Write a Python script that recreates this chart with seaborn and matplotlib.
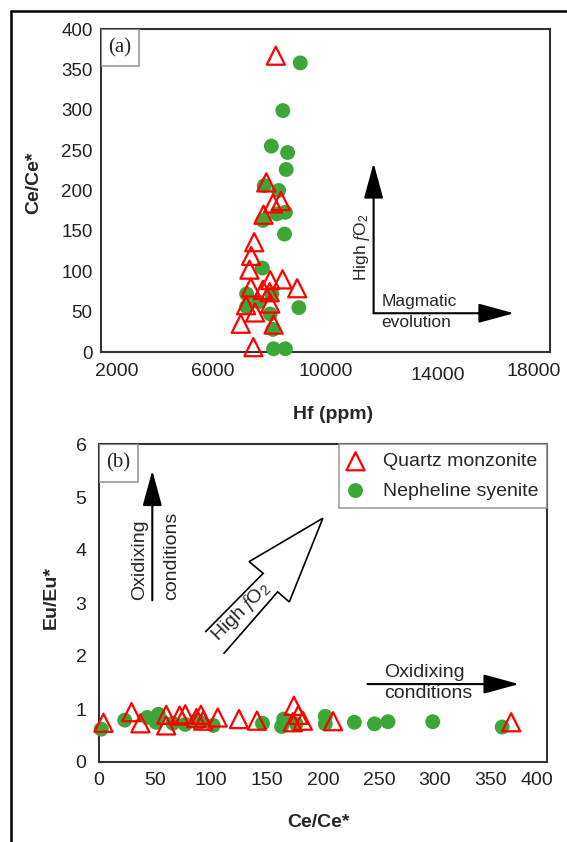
import matplotlib
matplotlib.use('Agg')
import matplotlib.pyplot as plt
import matplotlib.transforms as mtransforms
from matplotlib.patches import Rectangle
from matplotlib.lines import Line2D
import seaborn as sns

# (a) Hf (ppm) vs Ce/Ce*
qm_hf = [8230, 7890, 8130, 8410, 7790, 7460, 7350, 7290, 8030, 8470,
         8990, 7340, 7770, 8010, 7170, 8030, 7490, 6980, 8150, 7430]
qm_ce_a = [367, 210, 184, 187, 170, 136, 119, 102, 89, 90,
           79, 80, 77, 74, 58, 60, 49, 35, 34, 6]
ns_hf = [9100, 8480, 8070, 8650, 8600, 8330, 7820, 8270, 8570, 7770, 8540,
         7750, 7190, 7610, 8090, 9050, 7190, 8030, 8130, 8150, 8570]
ns_ce_a = [358, 299, 255, 247, 226, 200, 206, 171, 173, 163, 146,
           104, 72, 62, 72, 55, 56, 47, 28, 4, 4]

# (b) Ce/Ce* vs Eu/Eu*
qm_ce_b = [4, 29, 37, 60, 60, 72, 77, 87, 91, 93, 106, 125, 141,
           174, 178, 173, 182, 209, 368]
qm_eu = [0.74, 0.94, 0.73, 0.89, 0.69, 0.875, 0.90, 0.83, 0.89, 0.78, 0.84, 0.81, 0.78,
         1.06, 0.89, 0.75, 0.78, 0.77, 0.75]
ns_ce_b = [2, 23, 43, 53, 51, 66, 77, 102, 146, 165, 163, 202, 202,
           228, 246, 258, 298, 360, 90, 176, 87]
ns_eu = [0.62, 0.79, 0.84, 0.90, 0.75, 0.73, 0.71, 0.69, 0.73, 0.81, 0.67, 0.86, 0.72,
         0.75, 0.72, 0.76, 0.76, 0.66, 0.75, 0.72, 0.78]

a_xticks = [2000, 6000, 10000, 14000, 18000]
a_yticks = [0, 50, 100, 150, 200, 250, 300, 350, 400]
b_xticks = [0, 50, 100, 150, 200, 250, 300, 350, 400]
b_yticks = [0, 1, 2, 3, 4, 5, 6]

RED = '#ff0000'
GREEN = '#3da639'

sns.set_style('white')
plt.rcParams['font.family'] = ['Liberation Sans', 'DejaVu Sans']
plt.rcParams['mathtext.fontset'] = 'custom'
plt.rcParams['mathtext.rm'] = 'Liberation Sans'
plt.rcParams['mathtext.it'] = 'Liberation Serif:italic'

fig = plt.figure(figsize=(5.67, 8.42), dpi=100)
ax1 = fig.add_axes([101/567, 1 - 352/842, 449/567, 323/842])
ax2 = fig.add_axes([99/567, 1 - 762/842, 448/567, 318/842])

# frame around the figure (left + top only)
fig.add_artist(Line2D([11/567, 11/567], [0, 1 - 11/842], transform=fig.transFigure, color='black', lw=1.8))
fig.add_artist(Line2D([11/567, 1], [1 - 11/842, 1 - 11/842], transform=fig.transFigure, color='black', lw=1.8))


def shift(lbl, dx, dy):
    lbl.set_transform(lbl.get_transform() + mtransforms.ScaledTranslation(dx/72, dy/72, fig.dpi_scale_trans))


def draw_points(ax, xq, yq, xn, yn, lab):
    sns.scatterplot(x=xn, y=yn, marker='o', s=115, color=GREEN, edgecolor='none', linewidth=0,
                    legend=False, clip_on=False, zorder=3, ax=ax,
                    label='Nepheline syenite' if lab else None)
    sns.scatterplot(x=xq, y=yq, marker='^', s=170, facecolor='none', edgecolor=RED, linewidth=1.6,
                    legend=False, clip_on=False, zorder=4, ax=ax,
                    label='Quartz monzonite' if lab else None)


def style_axes(ax):
    for sp in ax.spines.values():
        sp.set_color('#333333')
        sp.set_linewidth(1.5)


def panel_tag(ax, txt, w, h):
    ax.add_patch(Rectangle((0, 1 - h), w, h, transform=ax.transAxes, fill=False,
                           ec='#999999', lw=1.2, zorder=5))
    ax.text(w/2, 1 - h/2, txt, transform=ax.transAxes, ha='center', va='center',
            family='Liberation Serif', fontsize=15, zorder=6)


arrow_kw = dict(arrowstyle='-|>,head_length=2.2,head_width=0.6', mutation_scale=10,
                color='black', lw=1.5, shrinkA=0, shrinkB=0)

# ---- panel (a)
draw_points(ax1, qm_hf, qm_ce_a, ns_hf, ns_ce_a, False)
ax1.set_xlim(2000, 18000)
ax1.set_ylim(0, 400)
ax1.set_xticks(a_xticks)
ax1.set_xticklabels([str(v) for v in a_xticks])
ax1.set_yticks(a_yticks)
ax1.set_yticklabels([str(v) for v in a_yticks])
ax1.tick_params(axis='x', direction='in', length=8, width=1.3, pad=8, labelsize=14, colors='#222222')
ax1.tick_params(axis='y', direction='out', length=5, width=1.3, pad=1, labelsize=13.5, colors='#222222')
style_axes(ax1)
xl = ax1.get_xticklabels()
shift(xl[0], 11, 0)
shift(xl[3], 0, -3)
shift(xl[4], -12, 0)
ax1.set_xlabel('Hf (ppm)', fontsize=14, fontweight='bold')
ax1.set_ylabel('Ce/Ce*', fontsize=14, fontweight='bold')
ax1.xaxis.set_label_coords(0.517, -0.167)
ax1.yaxis.set_label_coords(-0.131, 0.523)
panel_tag(ax1, '(a)', 0.0844, 0.1146)

ax1.annotate('', xy=(11714, 234), xytext=(11714, 48), arrowprops=arrow_kw)
ax1.annotate('', xy=(16714, 48), xytext=(11714, 48), arrowprops=arrow_kw)
ax1.text(11286, 130, r'High $f\mathrm{O}_2$', rotation=90, ha='center', va='center', fontsize=12.5)
ax1.text(12000, 63, 'Magmatic', ha='left', va='center', fontsize=12.5)
ax1.text(12000, 36, 'evolution', ha='left', va='center', fontsize=12.5)

# ---- panel (b)
draw_points(ax2, qm_ce_b, qm_eu, ns_ce_b, ns_eu, True)
ax2.set_xlim(0, 400)
ax2.set_ylim(0, 6)
ax2.set_xticks(b_xticks)
ax2.set_xticklabels([str(v) for v in b_xticks])
ax2.set_yticks(b_yticks)
ax2.set_yticklabels([str(v) for v in b_yticks])
ax2.tick_params(axis='x', direction='in', length=7, width=1.3, pad=7, labelsize=14, colors='#222222')
ax2.tick_params(axis='y', direction='out', length=7, width=1.3, pad=2, labelsize=14, colors='#222222')
style_axes(ax2)
shift(ax2.get_xticklabels()[-1], -7, 0)
ax2.set_xlabel('Ce/Ce*', fontsize=14, fontweight='bold')
ax2.set_ylabel('Eu/Eu*', fontsize=14, fontweight='bold')
ax2.xaxis.set_label_coords(0.489, -0.164)
ax2.yaxis.set_label_coords(-0.087, 0.516)
panel_tag(ax2, '(b)', 0.087, 0.1195)

h, l = ax2.get_legend_handles_labels()
order = [l.index('Quartz monzonite'), l.index('Nepheline syenite')]
leg = ax2.legend([h[i] for i in order], [l[i] for i in order], loc='upper right',
                 bbox_to_anchor=(1, 1), borderaxespad=0, fontsize=14, frameon=True,
                 fancybox=False, edgecolor='#888888', handlelength=0.8, handletextpad=1.0,
                 labelspacing=0.6, borderpad=0.45)
leg.get_frame().set_linewidth(1.2)

ax2.annotate('', xy=(47.6, 5.5), xytext=(47.6, 3.05), arrowprops=arrow_kw)
ax2.text(36, 3.05, 'Oxidixing', rotation=90, ha='center', va='bottom', fontsize=14)
ax2.text(64.6, 3.05, 'conditions', rotation=90, ha='center', va='bottom', fontsize=14)

# hollow block arrow "High fO2"
big_x = [95.2, 146.6, 134.0, 199.9, 169.9, 159.5, 111.6]
big_y = [2.46, 3.56, 3.78, 4.60, 3.02, 3.21, 2.05]
ax2.plot(big_x, big_y, color='black', lw=1.2, solid_joinstyle='miter')
ax2.text(126.6, 2.83, r'High $f\mathrm{O}_2$', rotation=45, rotation_mode='anchor',
         ha='center', va='center', fontsize=14)

ax2.annotate('', xy=(375, 1.47), xytext=(239.7, 1.47), arrowprops=arrow_kw)
ax2.text(255, 1.68, 'Oxidixing', ha='left', va='center', fontsize=14)
ax2.text(255, 1.30, 'conditions', ha='left', va='center', fontsize=14)

fig.savefig('out.png', dpi=100)
